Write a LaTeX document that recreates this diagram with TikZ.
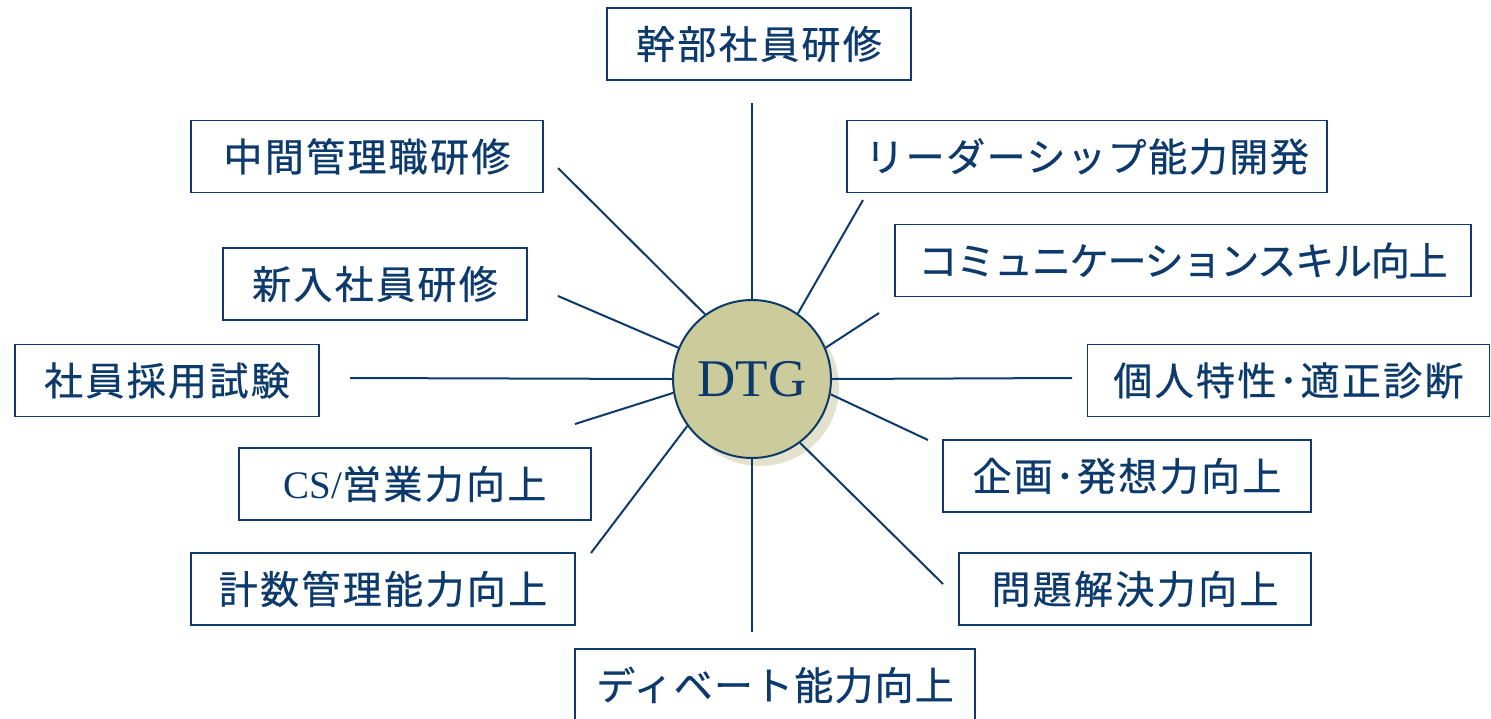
\documentclass[tikz,border=0pt]{standalone}
\usepackage{fontspec}
\newfontfamily\jpf{Noto Sans CJK JP}[LetterSpace=6,FakeBold=0.6]
\newfontfamily\rmf{Liberation Serif}
\definecolor{navy}{RGB}{12,58,108}
\definecolor{olivefill}{RGB}{203,203,155}
\definecolor{shadowc}{RGB}{227,227,205}
\begin{document}
\begin{tikzpicture}[x=1pt,y=-1pt,
  box/.style={draw=navy, line width=1.6pt, minimum height=72pt, inner sep=0pt, text=navy,
    font=\jpf\fontsize{39}{39}\selectfont},
  ray/.style={draw=navy, line width=2pt},
  hub/.style={circle, fill=olivefill, draw=navy, line width=2pt, minimum size=158pt, inner sep=0pt,
    text=navy, font=\rmf\fontsize{53}{53}\selectfont}]
\useasboundingbox (0,0) rectangle (1491,718);
\fill[white] (0,0) rectangle (1491,718);
% boxes
\node[box, minimum width=304pt] (b1) at (759,44) {幹部社員研修};
\node[box, minimum width=352pt] (b2) at (367,156.5) {中間管理職研修};
\node[box, minimum width=304pt] (b3) at (375,284) {新入社員研修};
\node[box, minimum width=304pt] (b4) at (167,380.5) {社員採用試験};
\node[box, minimum width=352pt] (b5) at (415,484) {{\rmf CS/}営業力向上};
\node[box, minimum width=384pt] (b6) at (383,589) {計数管理能力向上};
\node[box, minimum width=400pt] (b7) at (775,685) {\addfontfeatures{LetterSpace=3}ディベート能力向上};
\node[box, minimum width=480pt] (b8) at (1087,156.5) {\addfontfeatures{LetterSpace=4}リーダーシップ能力開発};
\node[box, minimum width=576pt] (b9) at (1183,260.5) {\addfontfeatures{LetterSpace=-3}コミュニケーションスキル向上};
\node[box, minimum width=402pt] (b10) at (1288.5,380.5) {個人特性･適正診断};
\node[box, minimum width=368pt] (b11) at (1127,476) {企画･発想力向上};
\node[box, minimum width=352pt] (b12) at (1135,589) {問題解決力向上};
% hub
\fill[shadowc] (760,387) circle (79pt);
\node[hub] (c) at (752,379) {DTG};
% ray ends
\coordinate (e1) at (752,103);
\coordinate (e2) at (752,632);
\coordinate (e3) at (350,378);
\coordinate (e4) at (1072,378);
\coordinate (e5) at (558,168);
\coordinate (e6) at (558,296);
\coordinate (e7) at (575,424);
\coordinate (e8) at (591,553);
\coordinate (e9) at (863,200);
\coordinate (e10) at (879,313);
\coordinate (e11) at (928,440);
\coordinate (e12) at (943,584);
% rays
\draw[ray] (c.90) -- (e1);
\draw[ray] (c.270) -- (e2);
\draw[ray] (c.180) -- (e3);
\draw[ray] (c.0) -- (e4);
\draw[ray] (c.126.6) -- (e5);
\draw[ray] (c.157) -- (e6);
\draw[ray] (c.190.6) -- (e7);
\draw[ray] (c.216.4) -- (e8);
\draw[ray] (c.55) -- (e9);
\draw[ray] (c.23.3) -- (e10);
\draw[ray] (c.349.8) -- (e11);
\draw[ray] (c.307.7) -- (e12);
\end{tikzpicture}
\end{document}
